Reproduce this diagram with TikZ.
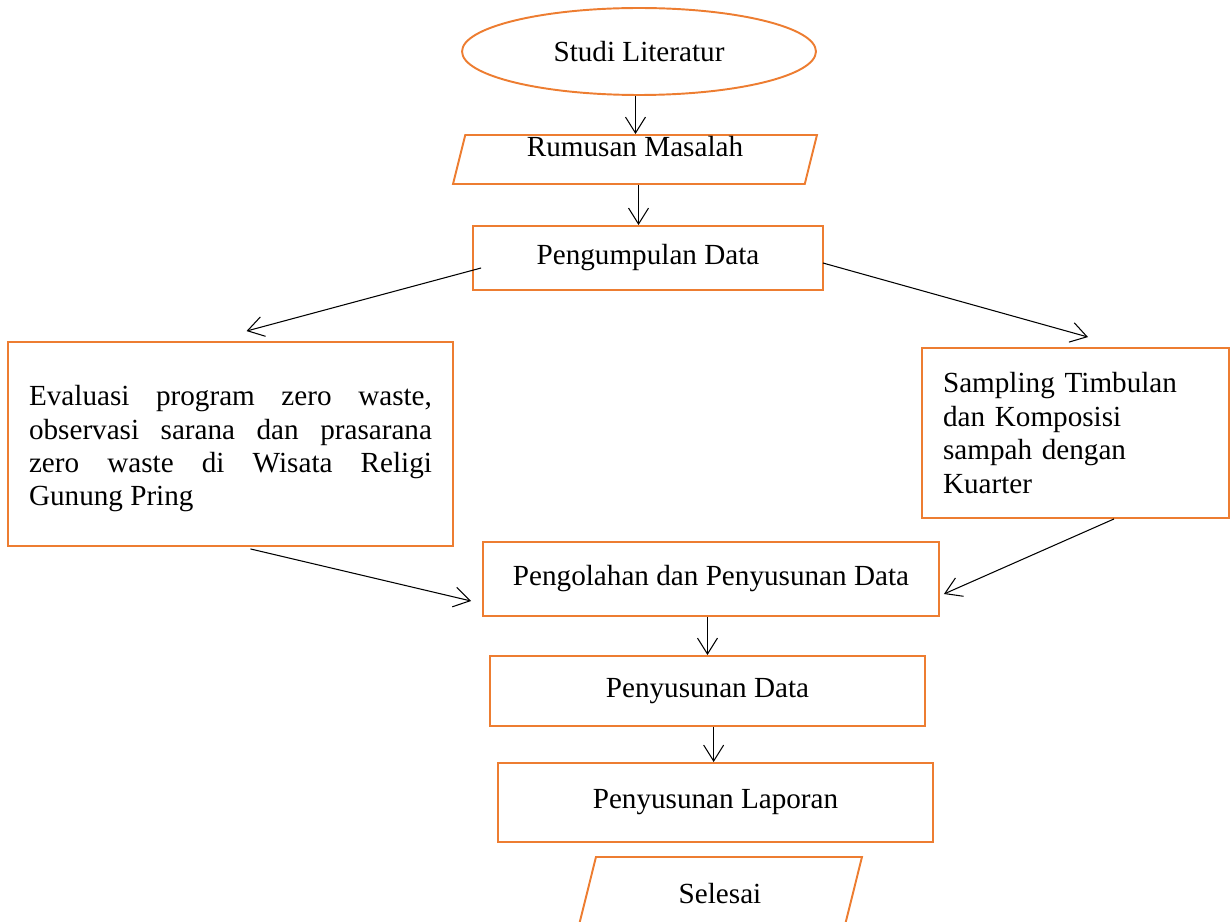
\documentclass[tikz,border=0pt]{standalone}
\usepackage{fontspec}
\setmainfont{Liberation Serif}
\usepackage{xcolor}
\usepackage{tikz}
\usetikzlibrary{shapes.geometric,arrows.meta}
\definecolor{boxorange}{HTML}{ED7D31}

\begin{document}
\begin{tikzpicture}[x=0.02cm,y=-0.02cm,font=\fontsize{16.6}{19}\selectfont,
  box/.style={draw=boxorange,line width=1.1pt,rectangle,inner sep=0pt},
  para/.style={draw=boxorange,line width=1.1pt,trapezium,trapezium left angle=76,trapezium right angle=104,trapezium stretches body,inner xsep=0pt},
  arr/.style={-{Straight Barb[length=3.2mm,width=4mm]},line width=0.6pt}]
\useasboundingbox (0,0) rectangle (1231,922);
\node[draw=boxorange,line width=1.1pt,ellipse,minimum width=7.08cm,minimum height=1.74cm,inner sep=0pt] (sl) at (639,51.5) {Studi Literatur};
\node[para,minimum width=7.28cm,inner ysep=0.04cm,text height=0.4cm,text depth=0.5cm] (rm) at (635,159.5) {Rumusan Masalah};
\node[box,minimum width=7cm,minimum height=1.28cm] (pd) at (648,258) {Pengumpulan Data};
\node[box,minimum width=8.9cm,minimum height=4.08cm,text width=8.06cm,align=justify] (ev) at (230.5,444) {\rule{0pt}{0.6cm}Evaluasi program zero waste,\linebreak observasi sarana dan prasarana\linebreak zero waste di Wisata Religi\linebreak Gunung Pring};
\node[box,minimum width=6.14cm,minimum height=3.4cm,text width=5.3cm,align=left] (sp) at (1075.5,433) {Sampling Timbulan\\dan Komposisi\\sampah dengan\\Kuarter};
\node[box,minimum width=9.12cm,minimum height=1.48cm] (po) at (711,579) {Pengolahan dan Penyusunan Data};
\node[box,minimum width=8.7cm,minimum height=1.4cm] (psd) at (707.5,691) {Penyusunan Data};
\node[box,minimum width=8.7cm,minimum height=1.58cm] (pl) at (715.5,802.5) {Penyusunan Laporan};
\node[para,minimum width=5.68cm,inner ysep=0.52cm,text height=0.4cm,text depth=0cm] (sel) at (720,893) {Selesai};
\draw[arr] ([xshift=-2]sl.south) -- ([xshift=-2]sl.south |- rm.north);
\draw[arr] ([xshift=2]rm.south) -- ([xshift=2]rm.south |- pd.north);
\draw[arr] ([shift={(9,10)}]pd.west) -- ([shift={(16,-10)}]ev.north);
\draw[arr] ([shift={(-1,5)}]pd.east) -- ([shift={(12.5,-10)}]sp.north);
\draw[arr] ([shift={(20,2)}]ev.south) -- ([shift={(-11,22)}]po.west);
\draw[arr] ([shift={(38.5,0)}]sp.south) -- ([shift={(4,15)}]po.east);
\draw[arr] ([xshift=-2]po.south) -- ([xshift=-2]po.south |- psd.north);
\draw[arr] ([xshift=3.5]psd.south) -- ([xshift=3.5]psd.south |- pl.north);
\end{tikzpicture}
\end{document}
